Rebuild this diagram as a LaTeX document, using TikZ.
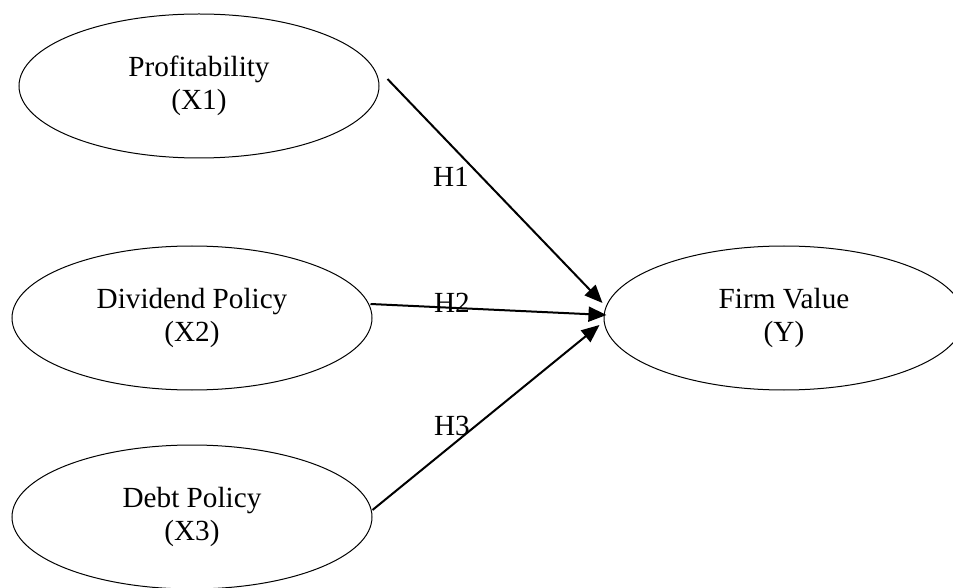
\documentclass[tikz,border=0pt]{standalone}
\usepackage{fontspec}
\setmainfont{Liberation Serif}
\usetikzlibrary{shapes.geometric,arrows.meta,calc}
\tikzset{
  var/.style={ellipse,draw,line width=0.5pt,minimum width=180pt,minimum height=72pt,inner sep=0pt,align=center,font=\fontsize{14.6}{16.8}\selectfont},
  arr/.style={line width=1pt,-{Triangle[length=9pt,width=7.5pt]}},
  hlab/.style={font=\fontsize{14.6}{16.8}\selectfont,inner sep=0pt}
}
\begin{document}
\begin{tikzpicture}[x=0.5pt,y=-0.5pt]
\useasboundingbox (0,0) rectangle (953,588);
\node[var] (p) at (199,86) {Profitability\\(X1)};
\node[var] (d) at (192,318) {Dividend Policy\\(X2)};
\node[var] (b) at (192,517) {Debt Policy\\(X3)};
\node[var] (f) at (784,318) {Firm Value\\(Y)};
\draw[arr] ($(p.east)+(8,-7)$) -- ($(f.west)+(-1,-15)$);
\draw[arr] ($(d.east)+(-2,-14)$) -- ($(f.west)+(3,-3)$);
\draw[arr] ($(b.east)+(0,-7)$) -- ($(f.west)+(-4,7)$);
\node[hlab] (h1) at (451,177) {H1};
\node[hlab] (h2) at (452,303) {H2};
\node[hlab] (h3) at (452,426) {H3};
\end{tikzpicture}
\end{document}
